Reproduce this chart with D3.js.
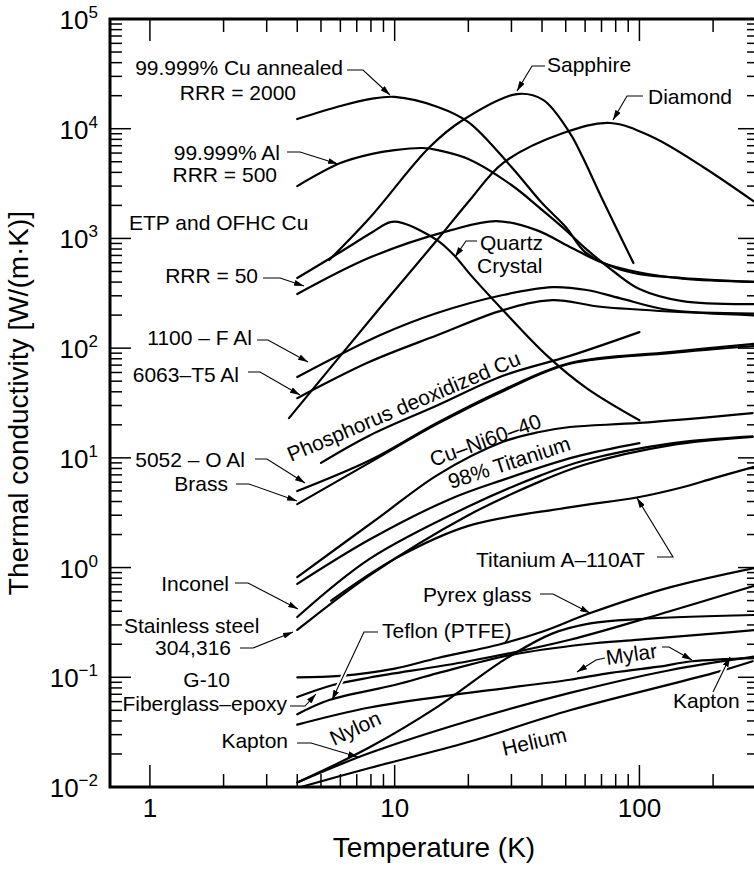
<!DOCTYPE html>
<html>
<head>
<meta charset="utf-8">
<script src="https://cdn.jsdelivr.net/npm/d3@7"></script>
<style>
  body { margin: 0; background: #fff; }
  svg { display: block; font-family: "Liberation Sans", Arial, Helvetica, sans-serif; }
</style>
</head>
<body>
<svg id="chart" width="754" height="872"></svg>
<script>
// temperature [K], conductivity [W/(m K)]
var cuRRR2000 = [[4, 12250], [6, 16100], [8, 18700], [10, 19500], [15, 15800], [20, 11500], [30, 4480], [40, 2100], [50, 1270], [60, 750], [80, 537], [100, 473], [150, 435], [300, 401]];
var alRRR500 = [[4, 3000], [6, 4860], [8, 5870], [10, 6390], [13, 6670], [15, 6390], [20, 5300], [30, 3070], [40, 1820], [50, 1190], [60, 817], [80, 484], [100, 346], [150, 268], [300, 252]];
var etpCu = [[4, 311], [8, 676], [17, 1190], [26, 1440], [38, 1190], [52, 836], [71, 597], [98, 494], [150, 430], [300, 401]];
var sapphire = [[5.4, 635], [7.9, 1535], [13.9, 6810], [19, 12000], [31.6, 20700], [40.4, 18300], [52, 9120], [58.6, 5520], [70.8, 2240], [94.5, 597]];
var diamond = [[3.7, 23], [8.7, 232], [14.9, 966], [20.3, 2240], [27.7, 4860], [48.8, 9140], [75.9, 11270], [113, 8400], [182, 4480], [300, 2100]];
var quartz = [[4, 436], [6, 752], [8, 1120], [9.6, 1410], [10.8, 1380], [14.9, 966], [17.6, 692], [20.3, 473], [27.7, 222], [41.8, 86], [61, 43], [100, 22]];
var al1100 = [[4, 54.5], [8.7, 131], [14.9, 209], [27.7, 305], [44, 360], [61, 339], [83, 286], [133, 222], [300, 207]];
var al6063 = [[4, 35], [7.9, 75], [14.9, 131], [27.7, 222], [44, 274], [71, 237], [300, 198]];
var pDeoxCu = [[5, 9], [7.9, 16], [14.9, 30], [27.7, 56], [52, 85], [100, 140]];
var al5052 = [[4, 4.98], [8, 9.6], [15, 21], [28, 42], [52, 73], [133, 92], [300, 110]];
var brass = [[4, 3.79], [8, 9.2], [15, 20.5], [28, 41], [52, 72], [133, 90], [300, 105]];
var cuNi = [[4, 0.82], [8.7, 2.9], [15, 7], [27.7, 14], [39, 17.2], [52, 19.1], [100, 20.8], [290, 25.6]];
var ti98 = [[4, 0.71], [7.9, 1.8], [16.8, 4.2], [27.7, 6.3], [54.6, 10.2], [100, 13.6]];
var inconel = [[4, 0.354], [7.9, 1.2], [20, 3.6], [40, 7], [60, 9.5], [133, 13.5], [290, 15.7]];
var stainless = [[4, 0.27], [7.9, 0.85], [20, 3.0], [40, 6.2], [60, 8.7], [133, 13], [290, 15.5]];
var tiA110 = [[5.5, 0.5], [10, 1.2], [20, 2.4], [50, 3.5], [100, 4.4], [150, 5.4], [200, 6.5], [300, 8.4]];
var pyrex = [[4, 0.1], [6, 0.103], [10, 0.12], [15, 0.15], [27, 0.2], [40, 0.26], [63, 0.385], [133, 0.66], [300, 1.0]];
var g10 = [[4, 0.066], [5.6, 0.085], [8, 0.1], [20, 0.14], [52, 0.22], [133, 0.4], [300, 0.69]];
var teflon = [[4, 0.046], [5.4, 0.062], [10, 0.085], [15, 0.109], [30, 0.16], [60, 0.2], [100, 0.22], [200, 0.25], [300, 0.27]];
var mylar = [[4, 0.037], [7.9, 0.053], [20, 0.072], [52, 0.095], [73, 0.108], [120, 0.125], [164, 0.14], [300, 0.15]];
var nylon = [[4, 0.011], [7.9, 0.023], [15, 0.054], [28, 0.144], [44, 0.25], [63, 0.31], [100, 0.34], [300, 0.37]];
var kapton = [[4, 0.011], [7.9, 0.0204], [20, 0.04], [52, 0.072], [133, 0.116], [300, 0.155]];
var helium = [[4, 0.0098], [7.9, 0.0149], [20, 0.0257], [52, 0.05], [200, 0.109], [290, 0.14]];

var curves = [cuRRR2000, alRRR500, etpCu, sapphire, diamond, quartz, al1100, al6063, pDeoxCu,
    al5052, brass, cuNi, ti98, inconel, stainless, tiA110, pyrex, g10, teflon, mylar, nylon, kapton, helium];

var xTickLabels = [1, 10, 100];
var yTickLabels = [-2, -1, 0, 1, 2, 3, 4, 5];

var plotLeft = 110, plotTop = 19, plotRight = 759, plotBottom = 787;

var svg = d3.select("#chart");

var x = d3.scaleLog().domain([0.687, 308]).range([plotLeft, plotRight]);
var y = d3.scaleLog().domain([0.01, 1e5]).range([plotBottom, plotTop]);

var defs = svg.append("defs");
defs.append("clipPath").attr("id", "plot")
    .append("rect")
    .attr("x", plotLeft).attr("y", plotTop)
    .attr("width", plotRight - plotLeft).attr("height", plotBottom - plotTop);

defs.append("marker")
    .attr("id", "arrow")
    .attr("viewBox", "0 0 10 6")
    .attr("refX", 10).attr("refY", 3)
    .attr("markerWidth", 10).attr("markerHeight", 6)
    .attr("markerUnits", "userSpaceOnUse")
    .attr("orient", "auto")
    .append("path")
    .attr("d", "M0,0L10,3L0,6z")
    .attr("fill", "#000");

//curves
var line = d3.line()
    .x(function (d) { return x(d[0]); })
    .y(function (d) { return y(d[1]); })
    .curve(d3.curveCatmullRom.alpha(0.5));

svg.append("g")
    .attr("clip-path", "url(#plot)")
    .selectAll("path")
    .data(curves)
    .enter().append("path")
    .attr("d", line)
    .attr("fill", "none")
    .attr("stroke", "#000")
    .attr("stroke-width", 2.2)
    .attr("stroke-linecap", "round");

//ticks
var xTicks = x.ticks().filter(function (t) { return t >= 1; });
var yTicks = y.ticks();
var ticks = svg.append("g").attr("stroke", "#000").attr("stroke-width", 1.5);

xTicks.forEach(function (t) {
    var len = xTickLabels.indexOf(t) >= 0 ? 22 : 13;
    ticks.append("line").attr("x1", x(t)).attr("x2", x(t)).attr("y1", plotBottom).attr("y2", plotBottom - len);
    ticks.append("line").attr("x1", x(t)).attr("x2", x(t)).attr("y1", plotTop).attr("y2", plotTop + len);
});
yTicks.forEach(function (t) {
    var major = Math.abs(Math.log10(t) - Math.round(Math.log10(t))) < 1e-9;
    var len = major ? 21 : 12;
    ticks.append("line").attr("x1", plotLeft).attr("x2", plotLeft + len).attr("y1", y(t)).attr("y2", y(t));
    ticks.append("line").attr("x1", plotRight).attr("x2", plotRight - len).attr("y1", y(t)).attr("y2", y(t));
});

//frame
svg.append("rect")
    .attr("x", plotLeft).attr("y", plotTop)
    .attr("width", plotRight - plotLeft).attr("height", plotBottom - plotTop)
    .attr("fill", "none")
    .attr("stroke", "#000")
    .attr("stroke-width", 3);

//tick labels
svg.selectAll("text.xl")
    .data(xTickLabels)
    .enter().append("text")
    .attr("class", "xl")
    .attr("x", function (d) { return x(d); })
    .attr("y", 817)
    .attr("text-anchor", "middle")
    .attr("font-size", 26)
    .text(function (d) { return d; });

var yl = svg.selectAll("text.yl")
    .data(yTickLabels)
    .enter().append("text")
    .attr("class", "yl")
    .attr("x", 98)
    .attr("y", function (d) { return y(Math.pow(10, d)) + 10; })
    .attr("text-anchor", "end")
    .attr("font-size", 26);
yl.append("tspan").text("10");
yl.append("tspan")
    .attr("dy", -11)
    .attr("font-size", 17)
    .text(function (d) { return d < 0 ? "\u2212" + (-d) : d; });

//axis titles
svg.append("text")
    .attr("x", 434)
    .attr("y", 857)
    .attr("text-anchor", "middle")
    .attr("font-size", 28)
    .text("Temperature (K)");

svg.append("text")
    .attr("transform", "translate(28,403) rotate(-90)")
    .attr("text-anchor", "middle")
    .attr("font-size", 28)
    .text("Thermal conductivity [W/(m\u00b7K)]");

//labels
var labels = [
    ["99.999% Cu annealed", 343, 75, "end"],
    ["RRR = 2000", 296, 100, "end"],
    ["99.999% Al", 280, 160, "end"],
    ["RRR = 500", 277, 182, "end"],
    ["ETP and OFHC Cu", 129, 230, "start"],
    ["RRR = 50", 258, 283, "end"],
    ["1100 \u2013 F Al", 252, 345, "end"],
    ["6063\u2013T5 Al", 239, 382, "end"],
    ["5052 \u2013 O Al", 245, 467, "end"],
    ["Brass", 228, 491, "end"],
    ["Inconel", 229, 591, "end"],
    ["Stainless steel", 124, 633, "start"],
    ["304,316", 231, 655, "end"],
    ["G-10", 230, 687, "end"],
    ["Fiberglass\u2013epoxy", 287, 711, "end"],
    ["Kapton", 288, 748, "end"],
    ["Sapphire", 547, 72, "start"],
    ["Diamond", 648, 104, "start"],
    ["Quartz", 480, 250, "start"],
    ["Crystal", 477, 273, "start"],
    ["Titanium A\u2013110AT", 476, 567, "start"],
    ["Pyrex glass", 423, 602, "start"],
    ["Teflon (PTFE)", 382, 638, "start"],
    ["Kapton", 673, 708, "start"]
];

svg.append("g").selectAll("text")
    .data(labels)
    .enter().append("text")
    .attr("x", function (d) { return d[1]; })
    .attr("y", function (d) { return d[2]; })
    .attr("text-anchor", function (d) { return d[3]; })
    .attr("font-size", 21)
    .text(function (d) { return d[0]; });

var rotLabels = [
    ["Phosphorus deoxidized Cu", 291, 462, -23],
    ["Cu\u2013Ni60\u201340", 433, 467, -20],
    ["98% Titanium", 451, 489, -18],
    ["Nylon", 334, 746, -25],
    ["Helium", 504, 756, -13],
    ["Mylar", 607, 665, -8]
];

svg.append("g").selectAll("text")
    .data(rotLabels)
    .enter().append("text")
    .attr("transform", function (d) { return "translate(" + d[1] + "," + d[2] + ") rotate(" + d[3] + ")"; })
    .attr("font-size", 21)
    .text(function (d) { return d[0]; });

//leaders
var leaders = [
    [[347, 70], [363, 70], [390, 95]],
    [[287, 152], [300, 152], [338, 164]],
    [[263, 278], [280, 278], [304, 286]],
    [[257, 340], [268, 340], [308, 362]],
    [[248, 372], [260, 372], [300, 395]],
    [[255, 459], [267, 459], [305, 483]],
    [[236, 484], [249, 484], [297, 501]],
    [[235, 583], [248, 583], [298, 609]],
    [[240, 648], [253, 648], [293, 632]],
    [[290, 706], [305, 706], [316, 694]],
    [[297, 743], [311, 743], [358, 757]],
    [[378, 632], [364, 632], [332, 700]],
    [[545, 66], [532, 66], [517, 91]],
    [[643, 96], [627, 96], [613, 120]],
    [[477, 241], [466, 241], [455, 257]],
    [[657, 557], [673, 557], [637, 498]],
    [[540, 594], [553, 594], [590, 613]],
    [[605, 658], [596, 660], [577, 672]],
    [[662, 647], [669, 647], [692, 660]],
    [[713, 692], [730, 657]]
];

var leaderLine = d3.line();
var lg = svg.append("g");
leaders.forEach(function (pts) {
    var halo = lg.append("path")
        .attr("d", leaderLine(pts))
        .attr("fill", "none")
        .attr("stroke", "#fff")
        .attr("stroke-width", 5);
    var len = halo.node().getTotalLength();
    halo.attr("stroke-dasharray", Math.max(len - 9, 0) + "," + 100);
    lg.append("path")
        .attr("d", leaderLine(pts))
        .attr("fill", "none")
        .attr("stroke", "#000")
        .attr("stroke-width", 1.1)
        .attr("marker-end", "url(#arrow)");
});
</script>
</body>
</html>
